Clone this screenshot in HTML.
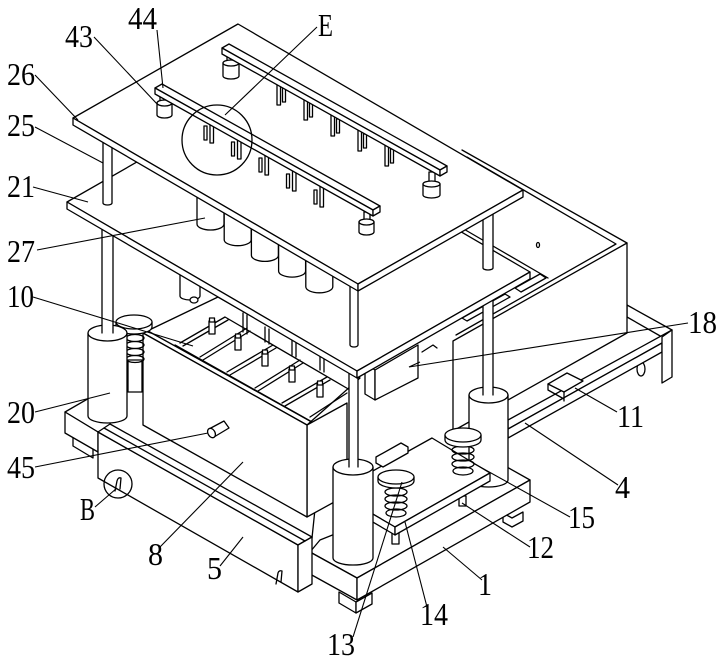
<!DOCTYPE html>
<html><head><meta charset="utf-8"><style>
html,body{margin:0;padding:0;background:#fff;}
svg{display:block;}
text{font-family:"Liberation Serif",serif;font-size:32px;fill:#000;stroke:none;}
</style></head><body>
<svg width="720" height="661" viewBox="0 0 720 661" xmlns="http://www.w3.org/2000/svg">
<rect width="720" height="661" fill="#fff"/>
<g fill="#fff" stroke="#000" stroke-width="1.3" stroke-linejoin="round" stroke-linecap="round">

<!-- right frame -->
<polygon points="627,305 672,330 662,337 627,317"/>
<ellipse cx="641" cy="369" rx="4" ry="7"/>
<polygon points="508,420 672,330 662,343 508,429"/>
<polygon points="508,429 662,343 662,352 508,438"/>
<polygon points="662,337 672,330 672,377 662,383"/>
<polygon points="548,384 567,373 583,381 564,392"/>
<path d="M564,392 L564,401 M548,384 L548,390 L564,399" fill="none"/>

<!-- enclosure -->
<polygon points="462,150 627,243 453,341 290,248" stroke="none"/>
<polygon points="627,243 627,333 453,431 453,341"/>
<path d="M462,150 L627,243 M467,157 L616,244 L456,335 M462,228 L548,278" fill="none"/>
<ellipse cx="538" cy="245" rx="1.5" ry="2.5" fill="none"/>
<polygon points="515,288 540,274 546,278 521,292"/>
<polygon points="462,318 505,294 510,297 467,321"/>

<!-- small device under plate 21 -->
<path d="M180,270 L180,296 A10,4 0 0 0 200,296 L200,270 Z"/>
<ellipse cx="194" cy="300" rx="4" ry="3"/>

<!-- left base -->
<polygon points="73,433 93,445 93,458 73,446"/>
<polygon points="65,412 150,363 320,461 312,538 98,432"/>
<polygon points="65,412 98,432 98,452 65,433"/>

<!-- right base 1 -->
<polygon points="339,592 356,602 356,613 339,603"/>
<polygon points="356,602 372,593 372,604 356,613"/>
<polygon points="503,513 512,518 523,512 523,521 512,527 503,522"/>
<polygon points="310,552 357,578 530,480 505,466 320,540"/>
<polygon points="310,552 357,578 357,600 310,574"/>
<polygon points="357,578 530,480 530,502 357,600"/>

<!-- box 8 top / trays -->
<polygon points="143,333 218,297 360,378 307,425"/>
<path d="M243,313 L243,332 M247,315 L247,334 M265,327 L265,342 M269,329 L269,344 M292,340 L292,355 M296,342 L296,357 M320,355 L320,370 M324,357 L324,372" fill="none"/>
<path d="M175,345 L312,422 M225,317 L350,390
 M180,343 L225,317 M200,357 L247,328 M227,372 L273,345 M255,388 L300,360 M282,403 L327,377 M310,417 L347,393
 M183,346 L228,320 M203,360 L250,331 M230,375 L276,348 M258,391 L303,363 M285,406 L330,380" fill="none"/>
<g>
<rect x="209" y="321" width="6" height="13"/><rect x="209.5" y="318" width="5" height="4"/>
<rect x="235" y="337" width="6" height="13"/><rect x="235.5" y="334" width="5" height="4"/>
<rect x="262" y="353" width="6" height="13"/><rect x="262.5" y="350" width="5" height="4"/>
<rect x="289" y="369" width="6" height="13"/><rect x="289.5" y="366" width="5" height="4"/>
<rect x="317" y="384" width="6" height="13"/><rect x="317.5" y="381" width="5" height="4"/>
</g>
<polygon points="307,425 347,403 347,495 307,517"/>
<polygon points="143,333 307,425 307,517 143,425"/>
<path d="M148,331 L310,421" fill="none"/>
<!-- tube 45 -->
<polygon points="209,429 224,421 229,428 214,437"/>
<ellipse cx="211.5" cy="433" rx="3.5" ry="5" transform="rotate(-30 211.5 433)"/>

<!-- box 5 -->
<polygon points="98,432 298,545 298,592 98,478"/>
<polygon points="98,432 110,424 312,537 298,545"/>
<polygon points="298,545 312,537 312,584 298,592"/>
<path d="M104,428 L305,541" fill="none"/>
<circle cx="118" cy="484" r="14" fill="none"/>
<path d="M115,491 L117,481 Q118,477 121,478 L120,489" fill="none"/>
<path d="M276,584 L278,573 Q279,570 282,571 L281,582" fill="none"/>

<!-- left spring & cap -->
<rect x="128" y="360" width="14" height="32"/>
<g fill="none">
<ellipse cx="135" cy="338" rx="9" ry="3.5"/><ellipse cx="135" cy="345" rx="9" ry="3.5"/>
<ellipse cx="135" cy="352" rx="9" ry="3.5"/><ellipse cx="135" cy="359" rx="9" ry="3.5"/>
</g>
<path d="M116,322 L116,327 A18,7 0 0 0 152,327 L152,322 Z"/>
<ellipse cx="134" cy="322" rx="18" ry="7"/>

<!-- left cylinder 20 -->
<path d="M88,333 L88,416 A19.5,7 0 0 0 127,416 L127,333 Z"/>
<ellipse cx="107.5" cy="333" rx="19.5" ry="8"/>
<rect x="102" y="225" width="11" height="108" stroke="none"/>
<path d="M102,225 L102,333 M113,225 L113,333" fill="none"/>

<!-- box 18 -->
<polygon points="365,364 375,370 375,400 365,394"/>
<polygon points="375,370 418,345 418,378 375,400"/>
<path d="M422,352 L433,345 L437,348" fill="none"/>

<!-- right cylinder -->
<path d="M469,395 L469,480 A19.5,7 0 0 0 508,480 L508,395 Z"/>
<ellipse cx="488.5" cy="395" rx="19.5" ry="8"/>
<rect x="483" y="290" width="10" height="105" stroke="none"/>
<path d="M483,290 L483,395 M493,290 L493,395" fill="none"/>

<!-- plate 14 -->
<rect x="392" y="533" width="7" height="11"/>
<rect x="459" y="496" width="7" height="10"/>
<polygon points="335,492 432,438 490,473 395,527"/>
<polygon points="335,492 395,527 395,535 335,500"/>
<polygon points="395,527 490,473 490,481 395,535"/>
<polygon points="376,457 401,443 408,447 408,453 383,467 376,463"/>
<!-- spring 15 -->
<g fill="none">
<ellipse cx="463" cy="450" rx="11" ry="4"/><ellipse cx="463" cy="457" rx="11" ry="4"/>
<ellipse cx="463" cy="464" rx="11" ry="4"/><ellipse cx="463" cy="471" rx="10" ry="4"/>
</g>
<path d="M445,435 L445,440 A18,7 0 0 0 481,440 L481,435 Z"/>
<ellipse cx="463" cy="435" rx="18" ry="7"/>
<!-- spring 13 -->
<g fill="none">
<ellipse cx="396" cy="492" rx="11" ry="4"/><ellipse cx="396" cy="499" rx="11" ry="4"/>
<ellipse cx="396" cy="506" rx="11" ry="4"/><ellipse cx="396" cy="513" rx="10" ry="4"/>
</g>
<path d="M378,477 L378,481 A18,7 0 0 0 414,481 L414,477 Z"/>
<ellipse cx="396" cy="477" rx="18" ry="7"/>

<!-- front cylinder -->
<path d="M333,467 L333,558 A20,7 0 0 0 373,558 L373,467 Z"/>
<ellipse cx="353" cy="467" rx="20" ry="8"/>
<rect x="349" y="372" width="9" height="95" stroke="none"/>
<path d="M349,372 L349,467 M358,372 L358,467" fill="none"/>

<!-- plate 21 -->
<polygon points="67,202 240,103 530,272 357,371"/>
<polygon points="67,202 357,371 357,378 67,209"/>
<polygon points="357,371 530,272 530,279 357,378"/>

<!-- cans 27 -->
<path d="M197,174 L197,224 A13.5,6 0 0 0 224,224 L224,174 Z"/>
<path d="M224.2,190 L224.2,239.7 A13.5,6 0 0 0 251.2,239.7 L251.2,190 Z"/>
<path d="M251.4,205 L251.4,255.4 A13.5,6 0 0 0 278.4,255.4 L278.4,205 Z"/>
<path d="M278.6,221 L278.6,271.1 A13.5,6 0 0 0 305.6,271.1 L305.6,221 Z"/>
<path d="M305.8,237 L305.8,286.8 A13.5,6 0 0 0 332.8,286.8 L332.8,237 Z"/>

<!-- poles 25 -->
<path d="M103,140 L103,203 A4.5,2 0 0 0 112,203 L112,140 Z"/>
<path d="M483,210 L483,268 A5,2 0 0 0 493,268 L493,210 Z"/>
<path d="M350,286 L350,345 A4,2 0 0 0 358,345 L358,286 Z"/>

<!-- plate 26 -->
<polygon points="238,24 73,118 358,284 523,190"/>
<polygon points="73,118 358,284 358,291 73,125"/>
<polygon points="358,284 523,190 523,197 358,291"/>

<!-- back bar supports -->
<rect x="227" y="50" width="6" height="13"/>
<path d="M223,63 L223,76 A8,3 0 0 0 239,76 L239,63 Z"/>
<ellipse cx="231" cy="63" rx="8" ry="3"/>
<rect x="429" y="172" width="6" height="12"/>
<path d="M423,184 L423,195 A8.5,3 0 0 0 440,195 L440,184 Z"/>
<ellipse cx="431.5" cy="184" rx="8.5" ry="3"/>
<!-- back bar nozzles -->
<rect x="277" y="84" width="3.5" height="21"/><rect x="282.5" y="88" width="3" height="14"/>
<rect x="304" y="99" width="3.5" height="21"/><rect x="309.5" y="103" width="3" height="14"/>
<rect x="331" y="114" width="3.5" height="22"/><rect x="336.5" y="119" width="3" height="14"/>
<rect x="358" y="130" width="3.5" height="21"/><rect x="363.5" y="134" width="3" height="14"/>
<rect x="385" y="145" width="3.5" height="21"/><rect x="390.5" y="149" width="3" height="14"/>
<!-- back bar -->
<polygon points="222,48 229,44 447,166 440,170"/>
<polygon points="222,48 440,170 440,176 222,54"/>
<polygon points="440,170 447,166 447,172 440,176"/>

<!-- front bar supports -->
<rect x="160" y="92" width="6" height="11"/>
<path d="M157,103 L157,115 A7.5,3 0 0 0 172,115 L172,103 Z"/>
<ellipse cx="164.5" cy="103" rx="7.5" ry="3"/>
<rect x="364" y="212" width="6" height="10"/>
<path d="M359,222 L359,232 A7.5,3 0 0 0 374,232 L374,222 Z"/>
<ellipse cx="366.5" cy="222" rx="7.5" ry="3"/>
<!-- front bar nozzles -->
<rect x="210" y="124" width="3.5" height="19"/><rect x="204" y="126" width="3" height="14"/>
<rect x="237.5" y="140" width="3.5" height="19"/><rect x="231.5" y="142" width="3" height="14"/>
<rect x="265" y="155" width="3.5" height="20"/><rect x="259" y="158" width="3" height="14"/>
<rect x="292.5" y="171" width="3.5" height="20"/><rect x="286.5" y="174" width="3" height="14"/>
<rect x="320" y="186" width="3.5" height="21"/><rect x="314" y="190" width="3" height="14"/>
<!-- front bar -->
<polygon points="155,88 162,84 380,206 373,210"/>
<polygon points="155,88 373,210 373,216 155,94"/>
<polygon points="373,210 380,206 380,212 373,216"/>

<circle cx="217" cy="140" r="35" fill="none"/>
</g>

<!-- leader lines -->
<g stroke="#000" stroke-width="1.1" fill="none">
<path d="M157,30 L163,88"/>
<path d="M94,37 L158,105"/>
<path d="M317,27 L225,115"/>
<path d="M35,75 L78,120"/>
<path d="M35,127 L103,163"/>
<path d="M33,187 L88,202"/>
<path d="M37,250 L205,218"/>
<path d="M33,297 L193,346"/>
<path d="M35,412 L110,393"/>
<path d="M35,467 L208,433"/>
<path d="M95,507 L117,488"/>
<path d="M160,547 L243,462"/>
<path d="M220,566 L243,537"/>
<path d="M353,637 L402,482"/>
<path d="M427,607 L405,522"/>
<path d="M482,580 L443,547"/>
<path d="M530,547 L462,503"/>
<path d="M570,517 L473,463"/>
<path d="M618,485 L525,423"/>
<path d="M617,412 L575,388"/>
<path d="M688,323 L409,367 L420,362"/>
</g>

<!-- labels -->
<text x="128" y="29" textLength="29" lengthAdjust="spacingAndGlyphs">44</text>
<text x="65" y="47" textLength="28" lengthAdjust="spacingAndGlyphs">43</text>
<text x="318" y="36" textLength="15" lengthAdjust="spacingAndGlyphs">E</text>
<text x="7" y="85" textLength="28" lengthAdjust="spacingAndGlyphs">26</text>
<text x="7" y="136" textLength="28" lengthAdjust="spacingAndGlyphs">25</text>
<text x="7" y="197" textLength="28" lengthAdjust="spacingAndGlyphs">21</text>
<text x="7" y="262" textLength="28" lengthAdjust="spacingAndGlyphs">27</text>
<text x="7" y="307" textLength="27" lengthAdjust="spacingAndGlyphs">10</text>
<text x="7" y="423" textLength="28" lengthAdjust="spacingAndGlyphs">20</text>
<text x="7" y="478" textLength="28" lengthAdjust="spacingAndGlyphs">45</text>
<text x="80" y="520" textLength="15" lengthAdjust="spacingAndGlyphs">B</text>
<text x="148" y="565" textLength="15" lengthAdjust="spacingAndGlyphs">8</text>
<text x="207" y="579" textLength="15" lengthAdjust="spacingAndGlyphs">5</text>
<text x="327" y="655" textLength="28" lengthAdjust="spacingAndGlyphs">13</text>
<text x="420" y="625" textLength="28" lengthAdjust="spacingAndGlyphs">14</text>
<text x="478" y="595" textLength="14" lengthAdjust="spacingAndGlyphs">1</text>
<text x="527" y="558" textLength="27" lengthAdjust="spacingAndGlyphs">12</text>
<text x="568" y="528" textLength="27" lengthAdjust="spacingAndGlyphs">15</text>
<text x="615" y="498" textLength="15" lengthAdjust="spacingAndGlyphs">4</text>
<text x="617" y="427" textLength="27" lengthAdjust="spacingAndGlyphs">11</text>
<text x="688" y="333" textLength="29" lengthAdjust="spacingAndGlyphs">18</text>
</svg>
</body></html>
